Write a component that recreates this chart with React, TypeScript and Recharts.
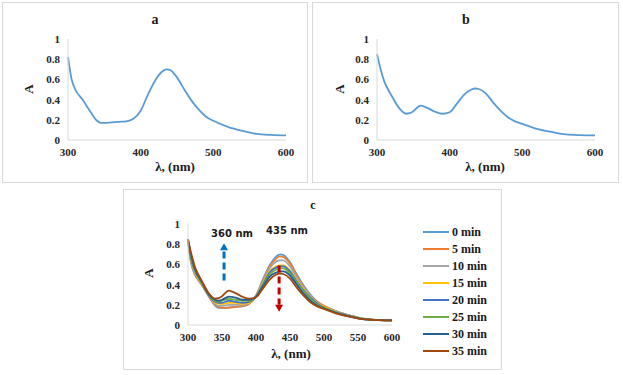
import React from 'react';
import { LineChart, Line, XAxis, YAxis, ReferenceLine, ReferenceDot } from 'recharts';

const wavelengths = [300, 305, 310, 320, 330, 340, 345, 350, 360, 370, 380, 390, 400, 410, 420, 430, 435, 440, 450, 460, 470, 480, 490, 500, 520, 540, 560, 580, 600];

const min0 = [0.82, 0.6, 0.5, 0.4, 0.29, 0.19, 0.17, 0.17, 0.175, 0.18, 0.185, 0.21, 0.29, 0.45, 0.59, 0.68, 0.7, 0.695, 0.62, 0.5, 0.39, 0.3, 0.23, 0.19, 0.13, 0.09, 0.06, 0.05, 0.045];
const min5 = [0.82, 0.61, 0.51, 0.4, 0.29, 0.2, 0.18, 0.17, 0.17, 0.18, 0.19, 0.21, 0.29, 0.44, 0.58, 0.66, 0.68, 0.675, 0.61, 0.49, 0.38, 0.29, 0.23, 0.19, 0.13, 0.09, 0.06, 0.05, 0.045];
const min10 = [0.83, 0.62, 0.52, 0.41, 0.3, 0.21, 0.19, 0.19, 0.2, 0.2, 0.2, 0.22, 0.29, 0.43, 0.56, 0.63, 0.64, 0.64, 0.58, 0.47, 0.37, 0.29, 0.22, 0.18, 0.13, 0.09, 0.06, 0.05, 0.045];
const min15 = [0.83, 0.63, 0.53, 0.41, 0.3, 0.22, 0.21, 0.21, 0.22, 0.22, 0.21, 0.22, 0.28, 0.41, 0.53, 0.58, 0.59, 0.59, 0.54, 0.44, 0.35, 0.27, 0.21, 0.18, 0.12, 0.085, 0.06, 0.05, 0.045];
const min20 = [0.84, 0.64, 0.54, 0.42, 0.3, 0.23, 0.22, 0.22, 0.24, 0.23, 0.22, 0.23, 0.28, 0.4, 0.52, 0.57, 0.58, 0.58, 0.53, 0.43, 0.34, 0.27, 0.21, 0.17, 0.12, 0.085, 0.058, 0.05, 0.045];
const min25 = [0.84, 0.66, 0.55, 0.42, 0.31, 0.24, 0.23, 0.24, 0.26, 0.25, 0.24, 0.24, 0.28, 0.39, 0.5, 0.55, 0.56, 0.56, 0.51, 0.42, 0.33, 0.26, 0.2, 0.17, 0.12, 0.08, 0.056, 0.048, 0.045];
const min30 = [0.85, 0.68, 0.56, 0.43, 0.31, 0.25, 0.24, 0.25, 0.28, 0.27, 0.25, 0.25, 0.28, 0.38, 0.48, 0.52, 0.53, 0.53, 0.49, 0.4, 0.31, 0.24, 0.19, 0.165, 0.115, 0.08, 0.055, 0.048, 0.045];
const min35 = [0.85, 0.7, 0.58, 0.44, 0.32, 0.26, 0.265, 0.285, 0.34, 0.315, 0.28, 0.26, 0.275, 0.36, 0.45, 0.5, 0.51, 0.505, 0.46, 0.37, 0.29, 0.225, 0.185, 0.16, 0.11, 0.08, 0.055, 0.048, 0.045];

const seriesValues = [min0, min5, min10, min15, min20, min25, min30, min35];
const seriesNames = ['0 min', '5 min', '10 min', '15 min', '20 min', '25 min', '30 min', '35 min'];
const seriesColors = ['#5b9bd5', '#ed7d31', '#a5a5a5', '#ffc000', '#4472c4', '#70ad47', '#255e91', '#9e480e'];

const yTicks = [0, 0.2, 0.4, 0.6, 0.8, 1];
const xTicksAB = [300, 400, 500, 600];
const xTicksC = [300, 350, 400, 450, 500, 550, 600];

const serif = "'Liberation Serif', 'Times New Roman', serif";
const tickStyle = { fontFamily: serif, fontWeight: 700, fontSize: 11, fill: '#262626' };
const axisColor = '#d9d9d9';

const rows = wavelengths.map((w, i) => {
  const row: Record<string, number> = { w };
  seriesValues.forEach((s, k) => {
    row['s' + k] = s[i];
  });
  return row;
});

const Txt = ({ x, y, size, children, rotate, family, color }: any) => (
  <div
    style={{
      position: 'absolute',
      left: x,
      top: y,
      transform: `translate(-50%, -50%)${rotate ? ' rotate(-90deg)' : ''}`,
      fontFamily: family || serif,
      fontWeight: 700,
      fontSize: size,
      color: color || '#1a1a1a',
      whiteSpace: 'nowrap',
      lineHeight: 1,
    }}
  >
    {children}
  </div>
);

const Box = ({ left, top, width, height }: any) => (
  <div
    style={{
      position: 'absolute',
      left,
      top,
      width,
      height,
      boxSizing: 'border-box',
      border: `1px solid ${axisColor}`,
    }}
  />
);

const SingleSpectrum = ({ left, top, width, height, margin, dataKey }: any) => (
  <div style={{ position: 'absolute', left, top }}>
    <LineChart width={width} height={height} data={rows} margin={margin}>
      <XAxis
        dataKey="w"
        type="number"
        domain={[300, 600]}
        ticks={xTicksAB}
        tickLine={false}
        stroke={axisColor}
        tick={tickStyle}
        height={20}
      />
      <YAxis
        type="number"
        domain={[0, 1]}
        ticks={yTicks}
        tickLine={false}
        stroke={axisColor}
        tick={tickStyle}
        width={30}
      />
      <Line
        dataKey={dataKey}
        type="monotone"
        stroke="#5b9bd5"
        strokeWidth={1.8}
        dot={false}
        isAnimationActive={false}
      />
    </LineChart>
  </div>
);

// arrow heads drawn at the reference point
const upArrow = (color: string) => (props: any) => {
  const { cx, cy } = props;
  return <path d={`M${cx - 4},${cy + 7} L${cx + 4},${cy + 7} L${cx},${cy} Z`} fill={color} />;
};
const downArrow = (color: string) => (props: any) => {
  const { cx, cy } = props;
  return <path d={`M${cx - 4},${cy - 7} L${cx + 4},${cy - 7} L${cx},${cy} Z`} fill={color} />;
};

export default function App() {
  return (
    <div style={{ position: 'absolute', left: 0, top: 0, width: 623, height: 375, background: '#fff', overflow: 'hidden' }}>
      <Box left={2} top={2} width={306} height={181} />
      <Box left={312} top={2} width={307} height={181} />
      <Box left={123} top={189} width={379} height={181} />

      <SingleSpectrum
        left={3}
        top={3}
        width={304}
        height={179}
        margin={{ top: 36, right: 21, bottom: 22, left: 35 }}
        dataKey="s0"
      />
      <SingleSpectrum
        left={313}
        top={3}
        width={305}
        height={179}
        margin={{ top: 36, right: 23, bottom: 22, left: 34 }}
        dataKey="s7"
      />

      <div style={{ position: 'absolute', left: 124, top: 190 }}>
        <LineChart width={290} height={179} data={rows} margin={{ top: 34, right: 22, bottom: 24, left: 34 }}>
          <XAxis
            dataKey="w"
            type="number"
            domain={[300, 600]}
            ticks={xTicksC}
            tickLine={false}
            stroke={axisColor}
            tick={tickStyle}
            height={20}
          />
          <YAxis
            type="number"
            domain={[0, 1]}
            ticks={yTicks}
            tickLine={false}
            stroke={axisColor}
            tick={tickStyle}
            width={30}
          />
          {seriesNames.map((name, k) => (
            <Line
              key={name}
              name={name}
              dataKey={'s' + k}
              type="monotone"
              stroke={seriesColors[k]}
              strokeWidth={1.8}
              dot={false}
              isAnimationActive={false}
            />
          ))}
          <ReferenceLine
            segment={[{ x: 353, y: 0.44 }, { x: 353, y: 0.74 }]}
            stroke="#0070c0"
            strokeWidth={3}
            strokeDasharray="7 4"
            ifOverflow="visible"
          />
          <ReferenceDot x={353} y={0.81} ifOverflow="visible" shape={upArrow('#0070c0')} />
          <ReferenceLine
            segment={[{ x: 434, y: 0.59 }, { x: 434, y: 0.2 }]}
            stroke="#c00000"
            strokeWidth={3}
            strokeDasharray="7 4"
            ifOverflow="visible"
          />
          <ReferenceDot x={434} y={0.13} ifOverflow="visible" shape={downArrow('#c00000')} />
        </LineChart>
      </div>

      {seriesNames.map((name, k) => (
        <div
          key={name}
          style={{ position: 'absolute', left: 423, top: 225 + k * 17, height: 14, display: 'flex', alignItems: 'center' }}
        >
          <div style={{ width: 26, height: 2, background: seriesColors[k] }} />
          <span style={{ marginLeft: 3, fontFamily: serif, fontWeight: 700, fontSize: 12, color: '#1a1a1a' }}>{name}</span>
        </div>
      ))}

      <Txt x={155} y={20} size={14}>a</Txt>
      <Txt x={466} y={20} size={14}>b</Txt>
      <Txt x={313} y={205} size={12}>c</Txt>

      <Txt x={28} y={89} size={13} rotate>A</Txt>
      <Txt x={339} y={89} size={13} rotate>A</Txt>
      <Txt x={148} y={273} size={13} rotate>A</Txt>

      <Txt x={175} y={166} size={13}>λ, (nm)</Txt>
      <Txt x={485} y={166} size={13}>λ, (nm)</Txt>
      <Txt x={291} y={353} size={13}>λ, (nm)</Txt>

      <Txt x={232} y={234} size={10} family="'DejaVu Sans', sans-serif">360 nm</Txt>
      <Txt x={287} y={231} size={10} family="'DejaVu Sans', sans-serif">435 nm</Txt>
    </div>
  );
}
